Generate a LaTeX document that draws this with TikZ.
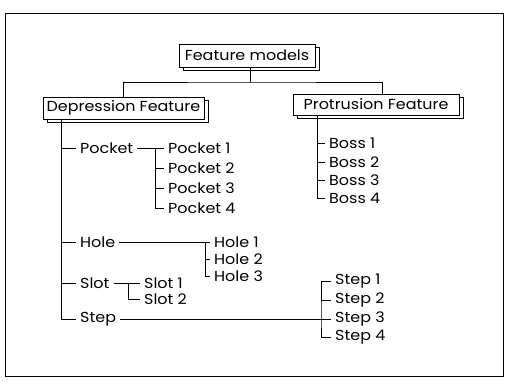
\documentclass[tikz,border=0pt]{standalone}
\usepackage{fontspec}
\setmainfont{Poppins}[FakeStretch=1.1]
\usetikzlibrary{positioning, shadows}
\tikzset{
  %% Boxed heading with offset copy behind it
  hbox/.style={
    rectangle, draw=black, fill=white,
    line width=0.9pt, inner sep=3pt,
    font=\fontsize{14.5}{16}\selectfont,
    copy shadow={shadow xshift=4pt, shadow yshift=-3pt,
                 draw=black, fill=white, line width=0.9pt}
  },
  %% Plain label in the tree
  leaf/.style={
    anchor=west, inner xsep=4pt, inner ysep=2pt,
    font=\fontsize{14.5}{16}\selectfont
  },
  %% Tree line
  link/.style={draw=black, line width=0.9pt},
}
\begin{document}
\begin{tikzpicture}[x=1pt, y=-1pt]
  \useasboundingbox (0,0) rectangle (506,383);

  % outer frame
  \draw[line width=0.9pt] (5,13) rectangle (503,376);

  % headings
  \node[hbox, minimum width=136pt, minimum height=23pt]
       (fm) at (247,55.5) {Feature models};
  \node[hbox, minimum width=161pt, minimum height=22pt]
       (df) at (123.5,108) {Depression Feature};
  \node[hbox, minimum width=166pt, minimum height=21pt]
       (pf) at (376,104.5) {Protrusion Feature};

  \coordinate (split) at (250,82);
  \draw[link] (fm.south -| split) -- (split);
  \draw[link] (df.north) |- (split) -| ([xshift=6pt]pf.north);

  % depression branch
  \node[leaf] (pocket) at (76,148) {Pocket};
  \node[leaf] (hole)   at (76,242) {Hole};
  \node[leaf] (slot)   at (76,283) {Slot};
  \node[leaf] (step)   at (76,319) {Step};

  \node[leaf] (pocket1) at (164,148) {Pocket 1};
  \node[leaf] (pocket2) at (164,168) {Pocket 2};
  \node[leaf] (pocket3) at (164,188) {Pocket 3};
  \node[leaf] (pocket4) at (164,208) {Pocket 4};

  \node[leaf] (hole1) at (210,242) {Hole 1};
  \node[leaf] (hole2) at (210,259) {Hole 2};
  \node[leaf] (hole3) at (210,276) {Hole 3};

  \node[leaf] (slot1) at (140,283) {Slot 1};
  \node[leaf] (slot2) at (140,299) {Slot 2};

  \node[leaf] (step1) at (331,281) {Step 1};
  \node[leaf] (step2) at (331,300) {Step 2};
  \node[leaf] (step3) at (331,319) {Step 3};
  \node[leaf] (step4) at (331,337) {Step 4};

  \coordinate (dtrunk) at (61,0);
  \draw[link] (df.south -| dtrunk) |- (step.west);
  \draw[link] (dtrunk |- pocket.west) -- (pocket.west);
  \draw[link] (dtrunk |- hole.west) -- (hole.west);
  \draw[link] (dtrunk |- slot.west) -- (slot.west);

  % pocket group
  \coordinate (pkbar) at (155,0);
  \draw[link] (pocket.east) -- (pocket1.west);
  \draw[link] (pkbar |- pocket1.west) |- (pocket4.west);
  \draw[link] (pkbar |- pocket2.west) -- (pocket2.west);
  \draw[link] (pkbar |- pocket3.west) -- (pocket3.west);

  % hole group
  \coordinate (hlbar) at (205,0);
  \draw[link] (hole.east) -- (hole1.west);
  \draw[link] (hlbar |- hole1.west) |- (hole3.west);
  \draw[link] (hlbar |- hole2.west) -- (hole2.west);

  % slot group
  \coordinate (slbar) at (128,0);
  \draw[link] (slot.east) -- (slot1.west);
  \draw[link] (slbar |- slot1.west) |- (slot2.west);

  % step group
  \coordinate (stbar) at (321,0);
  \draw[link] (step.east) -- (step3.west);
  \draw[link] (step1.west) -| (stbar |- step3.west) |- (step4.west);
  \draw[link] (stbar |- step2.west) -- (step2.west);

  % protrusion branch
  \node[leaf] (boss1) at (325,143) {Boss 1};
  \node[leaf] (boss2) at (325,162) {Boss 2};
  \node[leaf] (boss3) at (325,180) {Boss 3};
  \node[leaf] (boss4) at (325,198) {Boss 4};

  \coordinate (ptrunk) at (317,0);
  \draw[link] (pf.south -| ptrunk) |- (boss4.west);
  \draw[link] (ptrunk |- boss1.west) -- (boss1.west);
  \draw[link] (ptrunk |- boss2.west) -- (boss2.west);
  \draw[link] (ptrunk |- boss3.west) -- (boss3.west);

\end{tikzpicture}
\end{document}
